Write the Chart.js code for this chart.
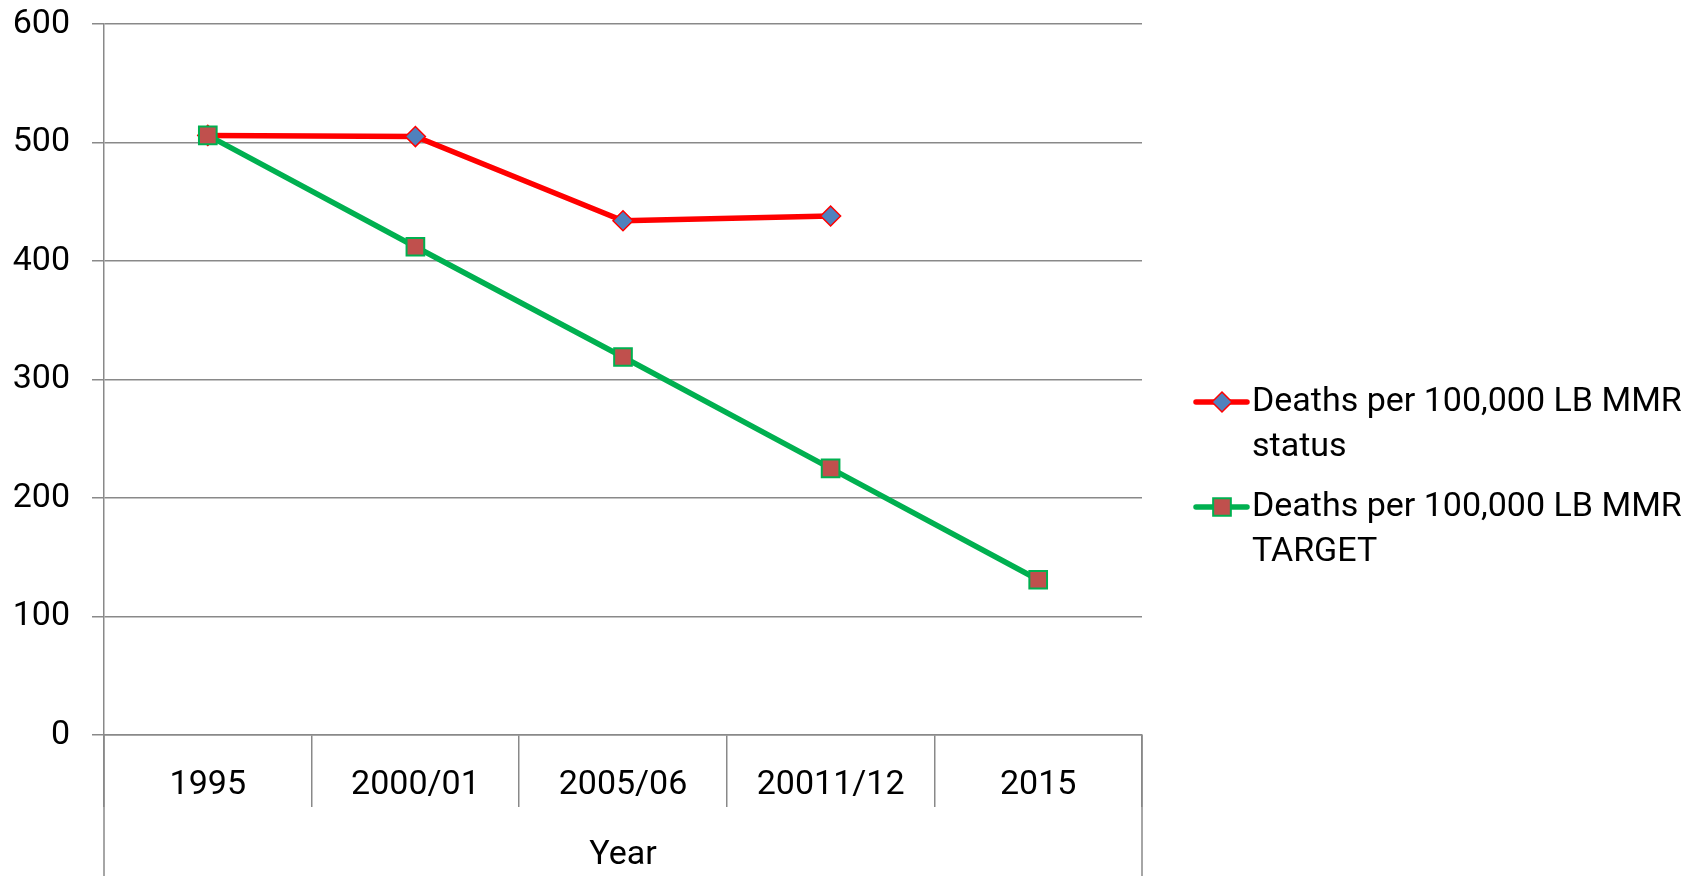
<!DOCTYPE html>
<html>
<head>
<meta charset="utf-8">
<script src="https://cdn.jsdelivr.net/npm/chart.js@4.4.0/dist/chart.umd.min.js"></script>
<style>
  html, body { margin: 0; padding: 0; background: #fff; }
  #wrap { width: 1703px; height: 876px; position: relative; }
</style>
</head>
<body>
<div id="wrap"><canvas id="grafico"></canvas></div>
<script>
// datos
const categorias = ['1995', '2000/01', '2005/06', '20011/12', '2015'];
const estadoMMR = [506, 505, 434, 438, null];
const metaMMR = [506, 412, 319, 225, 131];
const nombres = ['Deaths per 100,000 LB MMR status', 'Deaths per 100,000 LB MMR TARGET'];
const ticksY = [0, 100, 200, 300, 400, 500, 600];

const gris = '#898989';
const fuente = { family: 'Roboto', size: 34 };

// lineas exteriores del eje de categorias que bajan hasta el borde
const lineasExteriores = {
  id: 'lineasExteriores',
  afterDraw(chart) {
    const ctx = chart.ctx;
    const area = chart.chartArea;
    ctx.save();
    ctx.strokeStyle = gris;
    ctx.lineWidth = 1.5;
    [area.left, area.right].forEach((x) => {
      ctx.beginPath();
      ctx.moveTo(x, area.bottom);
      ctx.lineTo(x, chart.height);
      ctx.stroke();
    });
    ctx.restore();
  }
};

// leyenda a la derecha, con texto en dos lineas
const leyenda = {
  id: 'leyenda',
  afterDraw(chart) {
    const ctx = chart.ctx;
    const filas = [
      { y: 402, lineas: ['Deaths per 100,000 LB MMR', 'status'] },
      { y: 507, lineas: ['Deaths per 100,000 LB MMR', 'TARGET'] }
    ];
    ctx.save();
    chart.data.datasets.forEach((ds, i) => {
      const f = filas[i];
      ctx.strokeStyle = ds.borderColor;
      ctx.lineWidth = ds.borderWidth;
      ctx.lineCap = 'round';
      ctx.beginPath();
      ctx.moveTo(1196, f.y);
      ctx.lineTo(1247, f.y);
      ctx.stroke();
      ctx.fillStyle = ds.pointBackgroundColor;
      ctx.strokeStyle = ds.pointBorderColor;
      ctx.lineWidth = ds.pointBorderWidth;
      Chart.helpers.drawPoint(ctx, {
        pointStyle: ds.pointStyle,
        radius: ds.pointRadius,
        rotation: 0,
        borderWidth: ds.pointBorderWidth
      }, 1222, f.y);
      ctx.fillStyle = '#000';
      ctx.font = fuente.size + 'px ' + fuente.family;
      ctx.textBaseline = 'middle';
      ctx.textAlign = 'left';
      f.lineas.forEach((t, j) => {
        ctx.fillText(t, 1252, f.y + j * 45);
      });
    });
    ctx.restore();
  }
};

const ctx = document.getElementById('grafico').getContext('2d');

new Chart(ctx, {
  type: 'line',
  data: {
    labels: categorias,
    datasets: [{
      label: nombres[0],
      data: estadoMMR,
      order: 1,
      borderColor: '#ff0000',
      borderWidth: 5.5,
      pointStyle: 'rectRot',
      pointRadius: 10,
      pointHoverRadius: 10,
      pointBackgroundColor: '#4f81bd',
      pointBorderColor: '#ff0000',
      pointBorderWidth: 1.5,
      spanGaps: false,
      tension: 0
    }, {
      label: nombres[1],
      data: metaMMR,
      order: 0,
      borderColor: '#00b050',
      borderWidth: 5.5,
      pointStyle: 'rect',
      pointRadius: 12.5,
      pointHoverRadius: 12.5,
      pointBackgroundColor: '#c0504d',
      pointBorderColor: '#00b050',
      pointBorderWidth: 2,
      tension: 0
    }]
  },
  options: {
    responsive: true,
    maintainAspectRatio: false,
    animation: false,
    layout: { padding: { left: 0, top: 24, right: 561, bottom: 0 } },
    plugins: {
      legend: { display: false },
      tooltip: { enabled: false }
    },
    scales: {
      x: {
        offset: true,
        grid: { offset: true, drawOnChartArea: false, drawTicks: true, tickLength: 72, color: gris, lineWidth: 1.5 },
        border: { display: true, color: gris, width: 1.5 },
        ticks: { padding: -42, font: fuente, color: '#000', maxRotation: 0, autoSkip: false },
        title: { display: true, text: 'Year', font: fuente, color: '#000', padding: { top: 0, bottom: 0 } },
        afterFit: (s) => { s.height = 141; }
      },
      y: {
        min: 0,
        max: 600,
        afterBuildTicks: (s) => { s.ticks = ticksY.map((v) => ({ value: v })); },
        grid: { color: gris, lineWidth: 1.5, tickLength: 12 },
        border: { display: true, color: gris, width: 1.5 },
        ticks: { padding: 22, font: fuente, color: '#000' },
        afterFit: (s) => {
          s.width = 104;
          s.paddingTop = 0;
          s.paddingBottom = 0;
        }
      }
    }
  },
  plugins: [lineasExteriores, leyenda]
});
</script>
</body>
</html>
